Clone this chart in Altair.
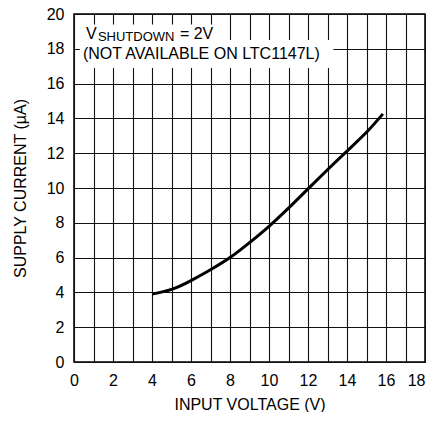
import altair as alt
import pandas as pd

# Curve
vin = [4, 5, 6, 7, 8, 9, 10, 11, 12, 13, 14, 15, 15.84]
icc = [3.9, 4.17, 4.68, 5.3, 6.0, 6.86, 7.8, 8.84, 9.95, 11.05, 12.12, 13.2, 14.26]

x_ticks = list(range(0, 19))
y_ticks = list(range(0, 21, 2))

# annotation
note_main = ["V", "SHUTDOWN", "= 2V"]
note_line2 = "(NOT AVAILABLE ON LTC1147L)"

FONT = "Liberation Sans, Arial, sans-serif"

df = pd.DataFrame({"v": vin, "i": icc})

xs = alt.Scale(domain=[0, 18], nice=False, zero=False)
ys = alt.Scale(domain=[0, 20], nice=False)

ax_x = alt.Axis(
    values=x_ticks,
    labelExpr="datum.value % 2 == 0 ? datum.label : ''",
    labelAlign={"condition": {"test": "datum.value == 18", "value": "right"},
                "value": "center"},
    title="INPUT VOLTAGE (V)", grid=True, ticks=False, domain=False,
    labelOverlap=False, labelPadding=10, titlePadding=8, labelFlush=False)
ax_y = alt.Axis(
    values=y_ticks, title="SUPPLY CURRENT (µA)", grid=True, ticks=False,
    labelOverlap=False, domain=False, labelPadding=10, titlePadding=18,
    labelFlush=False)

line = alt.Chart(df).mark_line(color="black", strokeWidth=3, interpolate="natural").encode(
    x=alt.X("v:Q", scale=xs, axis=ax_x),
    y=alt.Y("i:Q", scale=ys, axis=ax_y),
)

boxes = pd.DataFrame({
    "x1": [0.3, 0.3], "x2": [7.4, 13.3],
    "y1": [18.5, 16.9], "y2": [19.4, 18.5],
})
box = alt.Chart(boxes).mark_rect(color="white").encode(
    x=alt.X("x1:Q", scale=xs, axis=ax_x), x2="x2:Q",
    y=alt.Y("y1:Q", scale=ys, axis=ax_y), y2="y2:Q",
)


def label(x, y, t, size, dx=0, dy=0):
    return alt.Chart(pd.DataFrame({"x": [x], "y": [y], "t": [t]})).mark_text(
        align="left", baseline="alphabetic", fontSize=size, font=FONT,
        color="black", dx=dx, dy=dy
    ).encode(x=alt.X("x:Q", scale=xs, axis=ax_x),
             y=alt.Y("y:Q", scale=ys, axis=ax_y), text="t:N")


t1 = label(0.61, 18.54, note_main[0], 16)
t2 = label(0.61, 18.54, note_main[1], 13, dx=12, dy=2)
t3 = label(0.61, 18.54, note_main[2], 16, dx=94)
t4 = label(0.46, 17.41, note_line2, 16)

chart = alt.layer(line, box, t1, t2, t3, t4).properties(
    width=351, height=348,
    autosize=alt.AutoSizeParams(type="none"),
    padding={"left": 66, "top": 6, "right": 1, "bottom": 50},
    background="white",
).configure_view(
    stroke="black", strokeWidth=1.5
).configure_axis(
    gridColor="#111111", gridWidth=1.1, gridOpacity=1,
    labelFont=FONT, titleFont=FONT, labelFontSize=16, titleFontSize=16,
    labelColor="black", titleColor="black", titleFontWeight="normal",
)

chart.save("out.html", embed_options={"renderer": "svg", "actions": False})
